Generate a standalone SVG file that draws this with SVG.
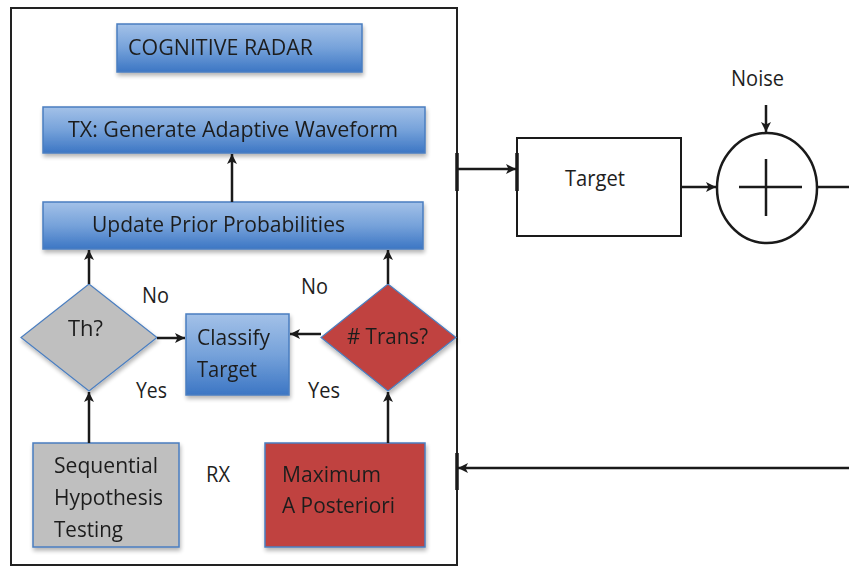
<svg xmlns="http://www.w3.org/2000/svg" width="849" height="567" viewBox="0 0 849 567">
<defs>
<linearGradient id="blue" x1="0" y1="0" x2="0" y2="1">
<stop offset="0" stop-color="#A3C1E8"/>
<stop offset="0.5" stop-color="#76A2DA"/>
<stop offset="1" stop-color="#3C76C4"/>
</linearGradient>
<filter id="sh" x="-10%" y="-10%" width="130%" height="140%">
<feGaussianBlur in="SourceAlpha" stdDeviation="2"/>
<feOffset dx="1" dy="3"/>
<feComponentTransfer><feFuncA type="linear" slope="0.3"/></feComponentTransfer>
<feMerge><feMergeNode/><feMergeNode in="SourceGraphic"/></feMerge>
</filter>
<marker id="ah" markerUnits="userSpaceOnUse" markerWidth="12" markerHeight="10" refX="10" refY="5" orient="auto">
<path d="M0,0 L10,5 L0,10 L2.5,5 Z" fill="#1a1a1a"/>
</marker>
</defs>
<style>
.t{font-family:"Open Sans","Noto Sans","Liberation Sans",sans-serif;font-size:22px;fill:#1e1e1e}
.bb{fill:url(#blue);stroke:#4A7EC0;stroke-width:1.5}
.c{stroke:#1a1a1a;stroke-width:2.5;fill:none}
.k{stroke:#1a1a1a;stroke-width:2;fill:none}
</style>
<rect x="11" y="8" width="446" height="557" fill="#fff" stroke="#222" stroke-width="2"/>

<g id="cognitive-radar" filter="url(#sh)">
<rect class="bb" x="117" y="24" width="245" height="48"/>
<text class="t" x="128" y="55" textLength="185" lengthAdjust="spacingAndGlyphs">COGNITIVE RADAR</text>
</g>
<g id="tx" filter="url(#sh)">
<rect class="bb" x="43" y="107" width="382" height="46"/>
<text class="t" x="68" y="137" textLength="330" lengthAdjust="spacingAndGlyphs">TX: Generate Adaptive Waveform</text>
</g>
<g id="update" filter="url(#sh)">
<rect class="bb" x="43" y="202" width="380" height="47"/>
<text class="t" x="92" y="232" textLength="253" lengthAdjust="spacingAndGlyphs">Update Prior Probabilities</text>
</g>
<g id="th" filter="url(#sh)">
<polygon points="89,284 157,337.5 89,391 21,337.5" fill="#BFBFBF" stroke="#4A7EC0" stroke-width="1.2"/>
<text class="t" x="68" y="336" textLength="35" lengthAdjust="spacingAndGlyphs">Th?</text>
</g>
<g id="classify" filter="url(#sh)">
<rect class="bb" x="186" y="314" width="103" height="81"/>
<text class="t" x="197" y="345" textLength="73" lengthAdjust="spacingAndGlyphs">Classify</text>
<text class="t" x="197" y="377" textLength="60" lengthAdjust="spacingAndGlyphs">Target</text>
</g>
<g id="trans" filter="url(#sh)">
<polygon points="388,284 456,337.5 388,391 321,337.5" fill="#C0433F" stroke="#4A7EC0" stroke-width="1.2"/>
<text class="t" x="347" y="344" textLength="81" lengthAdjust="spacingAndGlyphs"># Trans?</text>
</g>
<g id="sht" filter="url(#sh)">
<rect x="33" y="443" width="146" height="104" fill="#BFBFBF" stroke="#4A7EC0" stroke-width="1.5"/>
<text class="t" x="54" y="473" textLength="104" lengthAdjust="spacingAndGlyphs">Sequential</text>
<text class="t" x="54" y="505" textLength="109" lengthAdjust="spacingAndGlyphs">Hypothesis</text>
<text class="t" x="54" y="537" textLength="69" lengthAdjust="spacingAndGlyphs">Testing</text>
</g>
<g id="map" filter="url(#sh)">
<rect x="265" y="443" width="160" height="104" fill="#C0433F" stroke="#4A7EC0" stroke-width="1.5"/>
<text class="t" x="282" y="482" textLength="99" lengthAdjust="spacingAndGlyphs">Maximum</text>
<text class="t" x="282" y="513" textLength="113" lengthAdjust="spacingAndGlyphs">A Posteriori</text>
</g>
<g id="labels">
<text class="t" x="142" y="303" textLength="27" lengthAdjust="spacingAndGlyphs">No</text>
<text class="t" x="301" y="294" textLength="27" lengthAdjust="spacingAndGlyphs">No</text>
<text class="t" x="136" y="398" textLength="31" lengthAdjust="spacingAndGlyphs">Yes</text>
<text class="t" x="308" y="398" textLength="32" lengthAdjust="spacingAndGlyphs">Yes</text>
<text class="t" x="206" y="482" textLength="24" lengthAdjust="spacingAndGlyphs">RX</text>
</g>
<g id="target">
<rect x="517" y="138" width="164" height="98" fill="#fff" stroke="#1a1a1a" stroke-width="2"/>
<text class="t" x="565" y="186" textLength="60" lengthAdjust="spacingAndGlyphs">Target</text>
</g>
<g id="sum">
<ellipse cx="767" cy="188" rx="50" ry="55" fill="#fff" stroke="#1a1a1a" stroke-width="2.5"/>
<line class="c" x1="739" y1="187" x2="802" y2="187"/>
<line class="c" x1="766" y1="159" x2="766" y2="216"/>
</g>
<g id="noise">
<text class="t" x="731" y="86" textLength="53" lengthAdjust="spacingAndGlyphs">Noise</text>
</g>
<g id="connectors">
<line class="c" x1="232" y1="202" x2="232" y2="154" marker-end="url(#ah)"/>
<line class="c" x1="89" y1="284" x2="89" y2="250" marker-end="url(#ah)"/>
<line class="c" x1="388" y1="284" x2="388" y2="250" marker-end="url(#ah)"/>
<line class="c" x1="89" y1="443" x2="89" y2="392" marker-end="url(#ah)"/>
<line class="c" x1="388" y1="443" x2="388" y2="392" marker-end="url(#ah)"/>
<line class="c" x1="157" y1="338" x2="185" y2="338" marker-end="url(#ah)"/>
<line class="c" x1="321" y1="334" x2="290" y2="334" marker-end="url(#ah)"/>
<line class="c" x1="457" y1="169" x2="516" y2="169" marker-end="url(#ah)"/>
<line class="c" x1="681" y1="187" x2="716" y2="187" marker-end="url(#ah)"/>
<line class="c" x1="766" y1="105" x2="766" y2="132" marker-end="url(#ah)"/>
<line class="c" x1="817" y1="187" x2="849" y2="187"/>
<line class="c" x1="849" y1="468" x2="458" y2="468" marker-end="url(#ah)"/>
<line x1="457" y1="153" x2="457" y2="191" stroke="#1a1a1a" stroke-width="3.5"/>
<line x1="517" y1="153" x2="517" y2="191" stroke="#1a1a1a" stroke-width="3.5"/>
<line x1="457" y1="453" x2="457" y2="490" stroke="#1a1a1a" stroke-width="3.5"/>
</g>
</svg>
